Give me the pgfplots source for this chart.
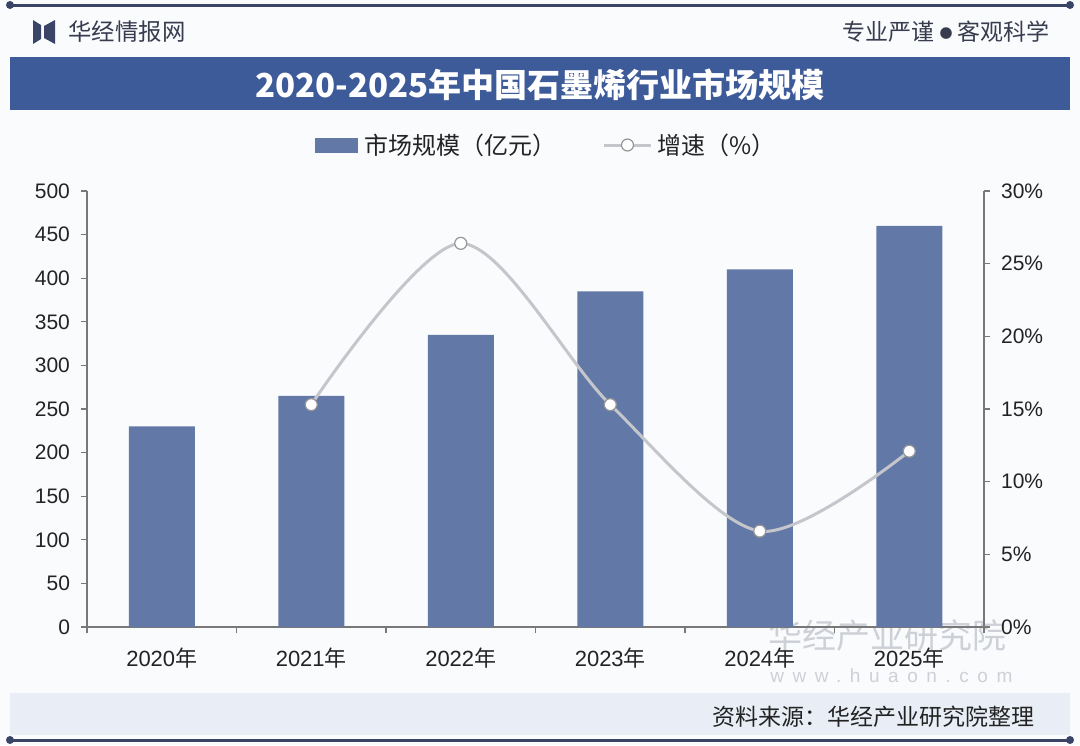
\documentclass[border=0pt]{standalone}
\usepackage{pgfplots}
\pgfplotsset{compat=1.18}
\usepackage{fontspec}
\setmainfont{Liberation Sans}
\newfontfamily\cjk{Noto Sans CJK SC}
\newfontfamily\wmfont[LetterSpace=45]{Liberation Sans}
\definecolor{barblue}{RGB}{98,121,167}
\definecolor{titleblue}{RGB}{62,91,153}
\definecolor{navy}{RGB}{58,68,102}
\definecolor{bgc}{RGB}{250,251,253}
\definecolor{footc}{RGB}{233,238,246}
\definecolor{axgray}{RGB}{120,120,120}
\definecolor{textc}{RGB}{35,35,35}
\definecolor{headc}{RGB}{55,60,78}
\definecolor{linegray}{RGB}{196,198,203}
\definecolor{markgray}{RGB}{150,150,150}
\definecolor{wmgray}{RGB}{205,208,214}
\begin{document}
\begin{tikzpicture}
\useasboundingbox (0,0) rectangle (540pt,-372.5pt);
\begin{scope}[x=0.5pt,y=-0.5pt]
  \fill[bgc] (0,0) rectangle (1080,745);
  % top line
  \draw[navy, line width=1.5pt] (10,5) -- (1070,5);
  \fill[navy] (10,5) circle (2pt) (1070,5) circle (2pt);
  % logo
  \fill[navy] (33,20) -- (41,25) -- (41,39) -- (33,44) -- cycle;
  \fill[navy] (55,20) -- (55,44) -- (44,38) -- (44,26) -- cycle;
  \node[anchor=west, text=headc, font=\cjk\fontsize{11.7}{13}\selectfont, inner sep=0] at (68,32) {华经情报网};
  \node[anchor=east, text=headc, font=\cjk\fontsize{11.5}{13}\selectfont, inner sep=0] at (1050,32) {专业严谨\hspace{2.5pt}{\fontsize{6.5}{8}\selectfont\raisebox{1.2pt}{●}}\hspace{2.5pt}客观科学};
  % title band
  \fill[titleblue] (10,57) rectangle (1070,110);
  \node[text=white, font=\cjk\bfseries\fontsize{16.5}{18}\selectfont] at (540,85) {2020-2025年中国石墨烯行业市场规模};
  % legend
  \fill[barblue] (315,138) rectangle (358,153);
  \node[anchor=west, text=textc, font=\cjk\fontsize{12}{14}\selectfont, inner sep=0] at (364,145) {市场规模（亿元）};
  \draw[linegray, line width=1.5pt] (604,145) -- (651,145);
  \filldraw[fill=white, draw=markgray, line width=0.6pt] (627.5,145) circle (3pt);
  \node[anchor=west, text=textc, font=\cjk\fontsize{12}{14}\selectfont, inner sep=0] at (657,145) {增速（\%）};
  % footer
  \fill[footc] (10,693) rectangle (1070,735);
  \node[anchor=east, text=textc, font=\cjk\fontsize{11.5}{13}\selectfont, inner sep=0] at (1035,717) {资料来源：华经产业研究院整理};
  \draw[navy, line width=1.5pt] (10,740) -- (1070,740);
  \fill[navy] (10,740) circle (2pt) (1070,740) circle (2pt);
  % watermark
  \node[anchor=west, text=wmgray, font=\cjk\fontsize{17}{19}\selectfont, inner sep=0] at (768,636) {华经产业研究院};
  \node[anchor=west, text=wmgray, font=\wmfont\fontsize{9.5}{11}\selectfont, inner sep=0] at (770,676) {www.huaon.com};
\end{scope}

\begin{axis}[
  at={(43.5pt,-313.5pt)}, anchor=south west,
  scale only axis, width=448.5pt, height=218pt,
  xmin=-0.5, xmax=5.5, ymin=0, ymax=500,
  axis x line*=bottom, axis y line*=left,
  axis line style={draw=axgray, line width=0.75pt, -},
  xtick={-0.5,0.5,1.5,2.5,3.5,4.5,5.5},
  xticklabels={2020{\cjk 年},2021{\cjk 年},2022{\cjk 年},2023{\cjk 年},2024{\cjk 年},2025{\cjk 年},{}},
  xticklabel style={xshift=37.375pt, yshift=-4pt, font=\fontsize{11}{13}\selectfont, text=textc},
  ytick={0,50,...,500},
  yticklabel style={font=\fontsize{10.5}{12}\selectfont, text=textc, xshift=-2pt},
  tick align=outside,
  major tick length=3pt,
  tick style={draw=axgray, line width=0.6pt},
  /pgf/number format/assume math mode=true,
  clip=false,
]
\addplot[ybar, bar width=33pt, fill=barblue, draw=none] coordinates {
  (0,230) (1,265) (2,335) (3,385) (4,410) (5,460)
};
\end{axis}

\begin{axis}[
  at={(43.5pt,-313.5pt)}, anchor=south west,
  scale only axis, width=448.5pt, height=218pt,
  xmin=-0.5, xmax=5.5, ymin=0, ymax=30,
  axis y line*=right, axis x line=none,
  axis line style={draw=axgray, line width=0.75pt, -},
  ytick={0,5,...,30},
  yticklabel={\pgfmathprintnumber{\tick}\%},
  yticklabel style={font=\fontsize{10.5}{12}\selectfont, text=textc, xshift=2pt},
  tick align=outside,
  major tick length=3pt,
  tick style={draw=axgray, line width=0.6pt},
  /pgf/number format/assume math mode=true,
  clip=false,
]
\addplot[smooth, color=linegray, line width=1.5pt, mark=*, mark size=3pt,
  mark options={fill=white, draw=markgray, line width=0.6pt}] coordinates {
  (1,15.3) (2,26.4) (3,15.3) (4,6.6) (5,12.1)
};
\end{axis}
\end{tikzpicture}
\end{document}
